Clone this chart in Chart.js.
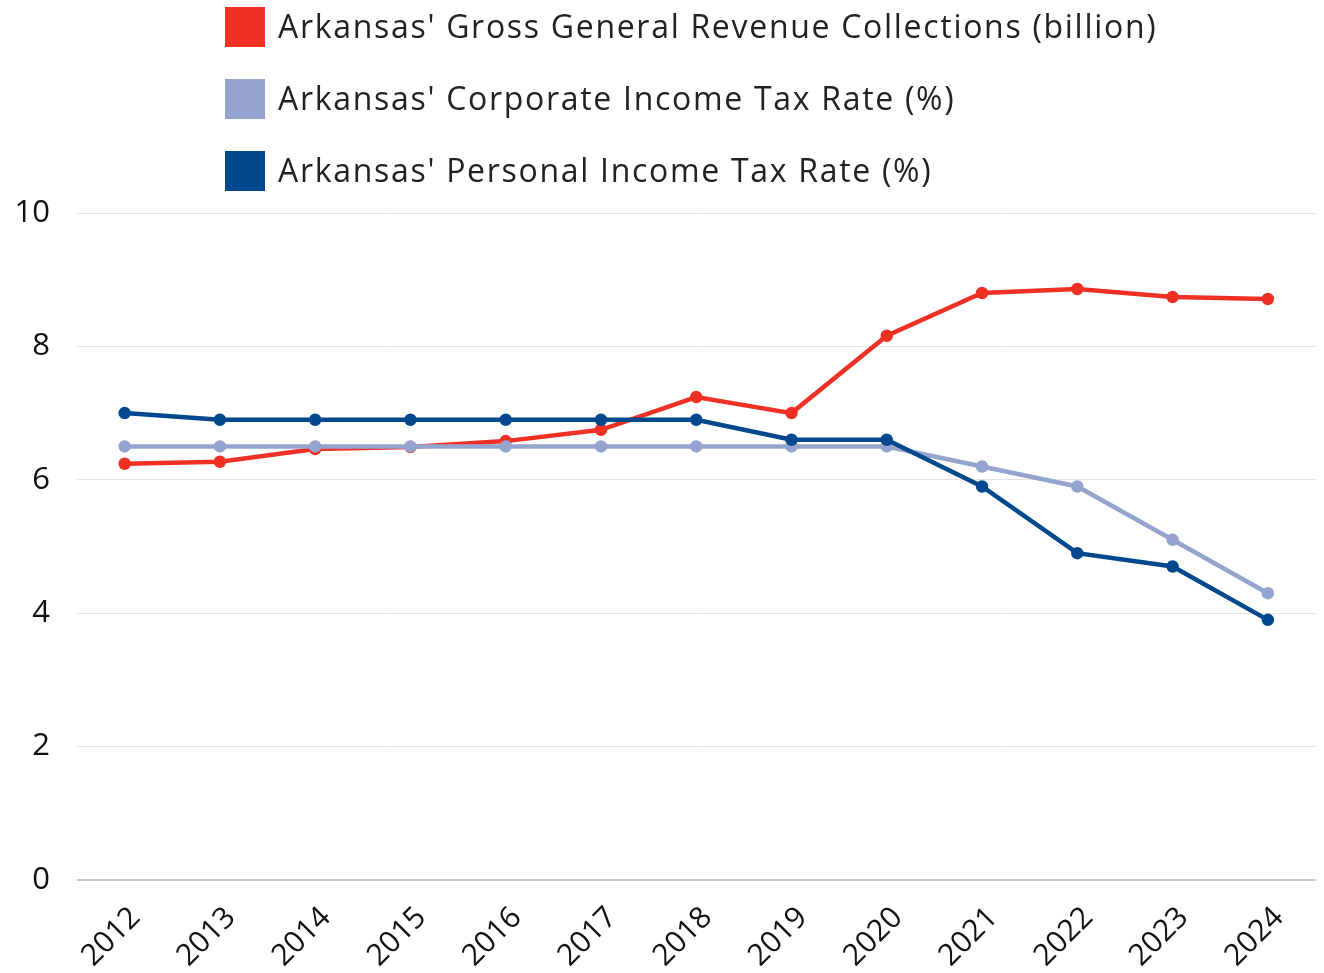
<!DOCTYPE html>
<html>
<head>
<meta charset="utf-8">
<script src="https://cdn.jsdelivr.net/npm/chart.js@4"></script>
<style>
  html, body { margin: 0; padding: 0; background: #fff; }
  #wrap { position: relative; width: 1324px; height: 973px; }
  #legend {
    position: absolute; left: 225px; top: 7px;
    font-family: "Open Sans", sans-serif; font-size: 32px; letter-spacing: 1.7px; color: #222;
  }
  .item { display: flex; align-items: center; height: 40px; margin-bottom: 32px; }
  .item span:last-child { position: relative; top: -2px; }
  .box { width: 40px; height: 40px; margin-right: 13px; }
</style>
</head>
<body>
<div id="wrap">
  <canvas id="chart" width="1324" height="973"></canvas>
  <div id="legend"></div>
</div>
<script>
const years = ["2012", "2013", "2014", "2015", "2016", "2017", "2018", "2019", "2020", "2021", "2022", "2023", "2024"];
const revenue = [6.24, 6.27, 6.46, 6.49, 6.58, 6.75, 7.24, 7.0, 8.16, 8.8, 8.86, 8.74, 8.71];
const corporateRate = [6.5, 6.5, 6.5, 6.5, 6.5, 6.5, 6.5, 6.5, 6.5, 6.2, 5.9, 5.1, 4.3];
const personalRate = [7.0, 6.9, 6.9, 6.9, 6.9, 6.9, 6.9, 6.6, 6.6, 5.9, 4.9, 4.7, 3.9];
const yTicks = [0, 2, 4, 6, 8, 10];

const FONT = "'Open Sans', sans-serif";

function line(label, data, color, order) {
  return {
    label, data, order,
    borderColor: color,
    backgroundColor: color,
    borderWidth: 4.5,
    pointRadius: 4,
    pointHoverRadius: 4,
    tension: 0
  };
}

const datasets = [
  line("Arkansas' Gross General Revenue Collections (billion)", revenue, "#ee3124", 3),
  line("Arkansas' Corporate Income Tax Rate (%)", corporateRate, "#95a3cf", 2),
  line("Arkansas' Personal Income Tax Rate (%)", personalRate, "#00488d", 1)
];

// legend is stacked vertically above the plot, so build it as html
const legendEl = document.getElementById("legend");
datasets.forEach(ds => {
  const row = document.createElement("div");
  row.className = "item";
  row.innerHTML = `<span class="box" style="background:${ds.borderColor}"></span><span>${ds.label}</span>`;
  legendEl.appendChild(row);
});

new Chart(document.getElementById("chart"), {
  type: "line",
  data: { labels: years, datasets },
  options: {
    responsive: false,
    animation: false,
    layout: { padding: { top: 213, right: 6, left: 0, bottom: 0 } },
    plugins: { legend: { display: false }, tooltip: { enabled: false } },
    scales: {
      x: {
        offset: true,
        grid: { display: false, drawTicks: false },
        border: { display: false },
        ticks: {
          minRotation: 45, maxRotation: 45, padding: 20, labelOffset: 11,
          color: "#111", font: { family: FONT, size: 30 }
        },
        afterFit: s => { s.height = 93; }
      },
      y: {
        min: 0, max: 10,
        afterBuildTicks: s => { s.ticks = yTicks.map(v => ({ value: v })); },
        grid: {
          drawTicks: false,
          color: ctx => ctx.tick.value === 0 ? "#c8c8c8" : "#e2e2e2",
          lineWidth: ctx => ctx.tick.value === 0 ? 2 : 1
        },
        border: { display: false },
        ticks: { padding: 27, color: "#111", font: { family: FONT, size: 31 } },
        afterFit: s => { s.width = 77; }
      }
    }
  }
});
</script>
</body>
</html>
